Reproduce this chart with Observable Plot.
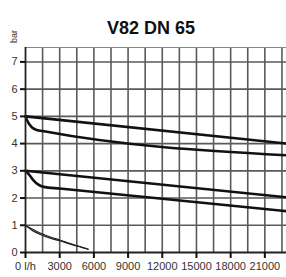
<!DOCTYPE html>
<html><head><meta charset="utf-8">
<script src="https://cdn.jsdelivr.net/npm/d3@7"></script>
<script src="https://cdn.jsdelivr.net/npm/@observablehq/plot@0.6"></script>
<style>body{margin:0;background:#fff}</style>
</head><body><div id="chart"></div>
<script>
const title = "V82 DN 65";
const yLabel = "bar";
const xTicks = [0, 3000, 6000, 9000, 12000, 15000, 18000, 21000];
const xTickLabels = ["0 l/h", "3000", "6000", "9000", "12000", "15000", "18000", "21000"];
const yTicks = [0, 1, 2, 3, 4, 5, 6, 7];
const xGrid = [1500, 3000, 4500, 6000, 7500, 9000, 10500, 12000, 13500, 15000, 16500, 18000, 19500, 21000, 22500];
const yGrid = [1, 2, 3, 4, 5, 6, 7];

const line1 = [[0, 5], [22900, 4.0]];
const line2 = [[0, 5], [150, 4.85], [350, 4.7], [600, 4.58], [1000, 4.5], [1500, 4.46], [22900, 3.57]];
const line3 = [[0, 3], [22900, 2.03]];
const line4 = [[0, 3], [300, 2.87], [700, 2.65], [1100, 2.5], [1600, 2.41], [3000, 2.35], [22900, 1.52]];
const line5a = [[0, 1], [500, 0.88], [1000, 0.77], [1500, 0.68], [2250, 0.56], [3000, 0.46], [4000, 0.32], [5000, 0.19], [5500, 0.12]];
const line5b = [[0, 1], [500, 0.84], [1000, 0.72], [1500, 0.63], [2250, 0.52], [3000, 0.43], [4000, 0.3], [5000, 0.18], [5500, 0.12]];

const X_MAX = 22900, Y_MAX = 7.53;

const thick = [line1, line2, line3, line4];
const narrow = "'Liberation Sans Narrow', 'Arial Narrow', 'Liberation Sans', sans-serif";

const chart = Plot.plot({
  width: 286, height: 277,
  marginLeft: 25, marginRight: 0, marginTop: 47, marginBottom: 25,
  style: {fontFamily: "'Liberation Sans', Arial, sans-serif", fontSize: "10px", color: "#333", background: "#fff"},
  x: {domain: [0, X_MAX]},
  y: {domain: [0, Y_MAX]},
  marks: [
    Plot.ruleX(xGrid, {stroke: "#5a5a5a", strokeWidth: 1.6}),
    Plot.ruleY(yGrid, {stroke: "#5a5a5a", strokeWidth: 1.6}),
    Plot.ruleY([Y_MAX], {stroke: "#888", strokeWidth: 1.2}),
    ...thick.map(d => Plot.line(d, {x: d => d[0], y: d => d[1], stroke: "#111", strokeWidth: 2.6, curve: "monotone-x"})),
    Plot.line(line5a, {x: d => d[0], y: d => d[1], stroke: "#222", strokeWidth: 1.2, curve: "monotone-x"}),
    Plot.line(line5b, {x: d => d[0], y: d => d[1], stroke: "#222", strokeWidth: 1.2, curve: "monotone-x"}),
    Plot.ruleX([0], {stroke: "#222", strokeWidth: 1.8}),
    Plot.ruleY([0], {stroke: "#222", strokeWidth: 1.8}),
    Plot.axisX({ticks: xTicks, tickFormat: (d, i) => xTickLabels[i], tickSize: 6, tickPadding: 4, stroke: "#111", strokeWidth: 2, fill: "#333", fontSize: 11, fontFamily: narrow, label: null}),
    Plot.axisY({ticks: yTicks, tickSize: 5, tickPadding: 3, stroke: "#111", strokeWidth: 2, fill: "#333", fontSize: 11, fontFamily: narrow, label: null}),
    Plot.text([title], {frameAnchor: "top", dy: -26, dx: -5, fontSize: 18, fontWeight: "bold", fill: "#111", text: d => d}),
    Plot.text([yLabel], {frameAnchor: "top-left", textAnchor: "middle", lineAnchor: "middle", dx: -11, dy: -11, rotate: -90, fontSize: 9, fill: "#333", text: d => d})
  ]
});
document.getElementById("chart").appendChild(chart);
</script>
</body></html>
